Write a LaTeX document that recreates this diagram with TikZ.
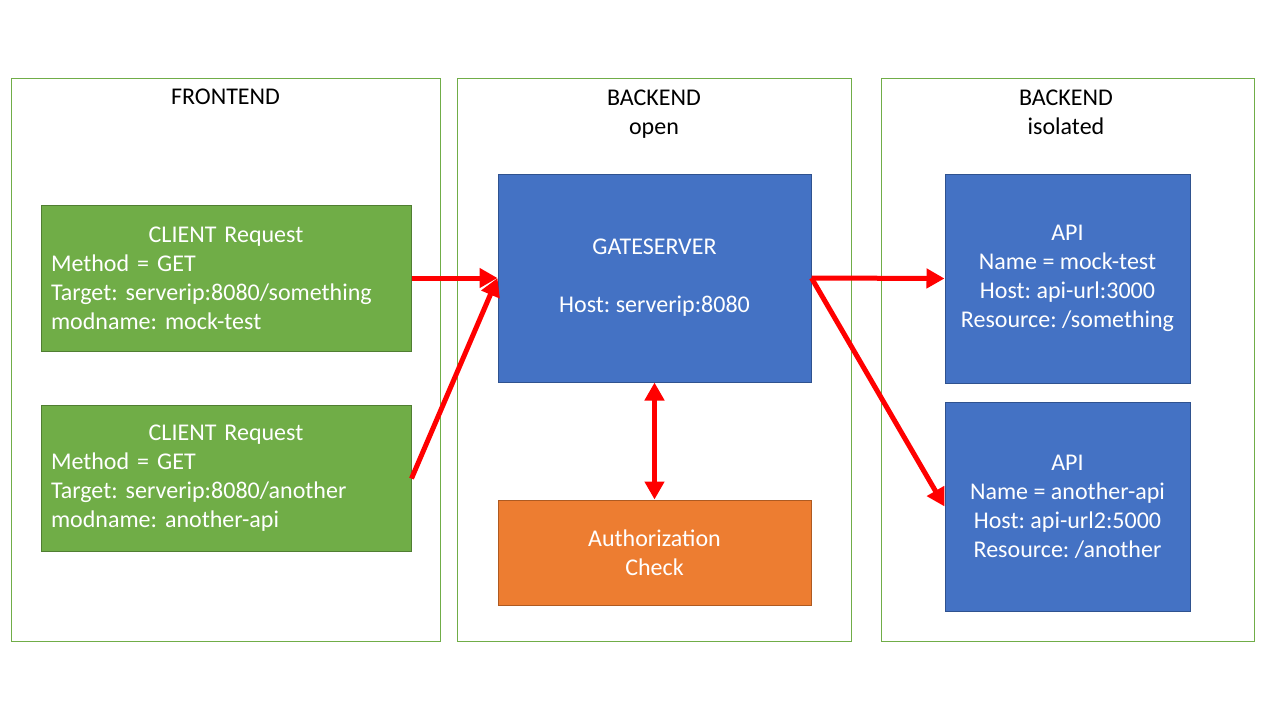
\documentclass[tikz,border=0pt]{standalone}
\usepackage{fontspec}
\setmainfont{Carlito}
\usetikzlibrary{arrows.meta}

\definecolor{tierline}{HTML}{70AD47}
\definecolor{clientfill}{HTML}{70AD47}
\definecolor{clientline}{HTML}{507E32}
\definecolor{servfill}{HTML}{4472C4}
\definecolor{servline}{HTML}{2F528F}
\definecolor{authfill}{HTML}{ED7D31}
\definecolor{authline}{HTML}{AE5A21}

\frenchspacing

\begin{document}
\begin{tikzpicture}[x=1pt, y=-1pt, font=\fontsize{24}{29}\selectfont,
  tier/.style={draw=tierline, line width=0.9pt, inner sep=0pt, anchor=north west},
  client/.style={fill=clientfill, draw=clientline, line width=1pt, text=white,
    text width=350pt, inner xsep=10pt, inner ysep=0pt, align=left,
    minimum width=370pt, minimum height=146pt},
  server/.style={fill=servfill, draw=servline, line width=1pt, text=white,
    align=center, inner sep=0pt},
  check/.style={fill=authfill, draw=authline, line width=1pt, text=white,
    align=center, inner sep=0pt},
  flow/.style={red, line width=5pt, -{Triangle[length=18pt, width=19pt]}},
  flowboth/.style={red, line width=5pt,
    {Triangle[length=18pt, width=19pt]}-{Triangle[length=18pt, width=19pt]}}]

  \useasboundingbox (0,0) rectangle (1280,720);

  % ────────────────────────────────────────────────────────────────────
  % Tiers (frontend / backend open / backend isolated)
  % ────────────────────────────────────────────────────────────────────
  \node[tier, minimum width=429pt, minimum height=563pt] (fe) at (11,78) {};
  \node[tier, minimum width=394pt, minimum height=563pt] (beo) at (457,78) {};
  \node[tier, minimum width=373pt, minimum height=563pt] (bei) at (881,78) {};

  \node (fetitle)  at (225.5,97)    {FRONTEND};
  \node[align=center] (beotitle) at (654,114)  {BACKEND\\open};
  \node[align=center] (beititle) at (1066,112.5) {BACKEND\\isolated};

  % ────────────────────────────────────────────────────────────────────
  % Client requests
  % ────────────────────────────────────────────────────────────────────
  \node[client] (cli1) at (226,278)
    {\makebox[\linewidth]{CLIENT Request}\\Method = GET\\
     Target: serverip:8080/something\\modname: mock-test};
  \node[client] (cli2) at (226,478.5)
    {\makebox[\linewidth]{CLIENT Request}\\Method = GET\\
     Target: serverip:8080/another\\modname: another-api};

  % ────────────────────────────────────────────────────────────────────
  % Gateway and authorization
  % ────────────────────────────────────────────────────────────────────
  \node[server, minimum width=313pt, minimum height=208pt] (gate) at (654.5,278)
    {GATESERVER\\\mbox{}\\Host: serverip:8080};
  \node[check, minimum width=313pt, minimum height=105pt] (auth) at (654.5,552.5)
    {Authorization\\Check};

  % ────────────────────────────────────────────────────────────────────
  % Isolated APIs
  % ────────────────────────────────────────────────────────────────────
  \node[server, minimum width=245pt, minimum height=209pt] (api1) at (1067.5,278.5)
    {API\\Name = mock-test\\Host: api-url:3000\\Resource: /something};
  \node[server, minimum width=245pt, minimum height=209pt] (api2) at (1067.5,506.5)
    {API\\Name = another-api\\Host: api-url2:5000\\Resource: /another};

  % ── request flow ──
  \draw[flow] (cli1.east) -- (gate.west);
  \draw[flow] (cli2.east) -- (gate.west);
  \draw[flow] (gate.east) -- (api1.west);
  \draw[flow] (gate.east) -- (api2.west);
  \draw[flowboth] (gate.south) -- (auth.north);

\end{tikzpicture}
\end{document}
